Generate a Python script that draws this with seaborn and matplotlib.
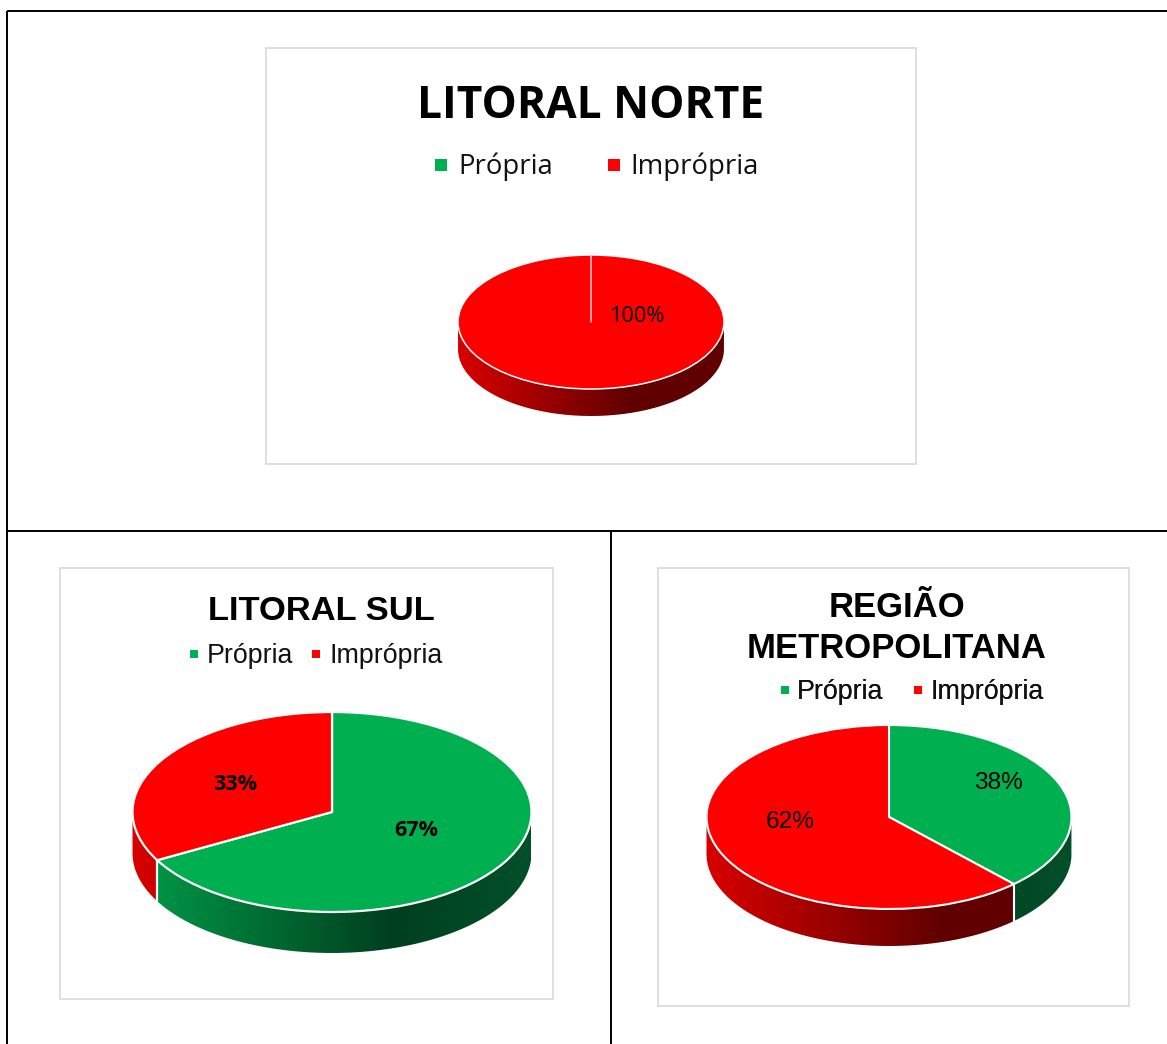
import numpy as np
import matplotlib
matplotlib.use('Agg')
import matplotlib.pyplot as plt
from matplotlib.colors import LinearSegmentedColormap
from matplotlib.lines import Line2D
from matplotlib.patches import PathPatch, Rectangle
from matplotlib.path import Path
import seaborn as sns

# Values
categories = ['Própria', 'Imprópria']
norte_values = [0, 100]
sul_values = [67, 33]
metro_values = [38, 62]

norte_title = 'LITORAL NORTE'
sul_title = 'LITORAL SUL'
metro_title = 'REGIÃO\nMETROPOLITANA'

sns.set_theme(style='white')

W, H = 1167, 1044
fig = plt.figure(figsize=(W / 100, H / 100), dpi=100, facecolor='white')

# Background layer in pixel coordinates, for the table lines, boxes, titles and legends
bg = fig.add_axes([0, 0, 1, 1])
bg.set_xlim(0, W)
bg.set_ylim(H, 0)
bg.axis('off')

for xs, ys in [((7, W), (11, 11)), ((7, 7), (11, H)), ((7, W), (531, 531)), ((611, 611), (531, H))]:
    bg.plot(xs, ys, color='black', lw=1.4, solid_capstyle='butt')

palette = sns.color_palette(['#00B050', '#FF0000'])
side_cmaps = [
    LinearSegmentedColormap.from_list('green_side', [(0, '#009C48'), (0.65, '#003F1F'), (1, '#02502A')]),
    LinearSegmentedColormap.from_list('red_side', [(0, '#D80000'), (0.65, '#600000'), (1, '#600000')]),
]


def draw_box(x0, y0, x1, y1):
    bg.add_patch(Rectangle((x0, y0), x1 - x0, y1 - y0, fc='white', ec='#D9D9D9', lw=1.2))


def draw_legend(cx, cy, font, size, msize, hlen, colspace, textpad):
    handles = [Line2D([], [], ls='none', marker='s', ms=msize, color=c, mew=0) for c in palette]
    leg = bg.legend(handles, categories, loc='center', bbox_to_anchor=(cx, cy),
                    bbox_transform=bg.transData, ncol=2, frameon=False,
                    columnspacing=colspace, handletextpad=textpad, handlelength=hlen,
                    borderpad=0, borderaxespad=0,
                    prop={'family': font, 'size': size})
    for t in leg.get_texts():
        t.set_color('#111111')
    # keep it when the next legend is made
    bg.add_artist(leg)


def draw_pie(values, cx, cy, rx, ry, depth, edge_lw, labels):
    pad = 1.03
    d = depth / ry
    top = cy - ry * pad
    bottom = cy + ry * (d + pad)
    ax = fig.add_axes([(cx - rx * pad) / W, 1 - bottom / H, 2 * rx * pad / W, (bottom - top) / H])
    wedges, _ = ax.pie(values, colors=palette, startangle=90, counterclock=False, radius=1,
                       wedgeprops={'edgecolor': 'white', 'linewidth': edge_lw})
    ax.set_aspect('auto')
    for w in wedges:
        w.set_zorder(5)

    # Side wall: lower rim of each wedge pushed down, filled with a left-to-right gradient
    for w, cmap in zip(wedges, side_cmaps):
        if w.theta2 - w.theta1 >= 360:
            # a full disc has no radial edge of its own
            ang = np.radians(w.theta2)
            ax.plot([0, np.cos(ang)], [0, np.sin(ang)], color='#F4D0D0', lw=1.1, zorder=6)
        a0, a1 = max(w.theta1, -180), min(w.theta2, 0)
        if a1 <= a0:
            continue
        t = np.radians(np.linspace(a0, a1, 200))
        x, y = np.cos(t), np.sin(t)
        verts = np.r_[np.c_[x, y], np.c_[x[::-1], y[::-1] - d], [[x[0], y[0]]]]
        patch = PathPatch(Path(verts), fc='none', ec='none', transform=ax.transData)
        ax.add_patch(patch)
        img = ax.imshow(np.linspace(0, 1, 256).reshape(1, -1), cmap=cmap, aspect='auto',
                        extent=(-1, 1, -1 - d, 1), zorder=2, vmin=0, vmax=1)
        img.set_clip_path(patch)
        if a0 > -180:
            ax.plot([x[0], x[0]], [y[0], y[0] - d], color='white', lw=edge_lw, zorder=3)

    ax.set_xlim(-pad, pad)
    ax.set_ylim(-d - pad, pad)

    for val, (px, py), font, size, weight in labels:
        ax.text((px - cx) / rx, (cy - py) / ry, f'{val}%', ha='center', va='center',
                family=font, fontsize=size, fontweight=weight, color='black', zorder=7)


# LITORAL NORTE
draw_box(266, 48, 916, 464)
bg.text(591, 106, norte_title, ha='center', va='center', family='Open Sans',
        fontweight='bold', fontsize=31.9, color='black')
draw_legend(597, 167, 'Open Sans', 19.8, 8.6, 0.45, 2.0, 0.38)
draw_pie(norte_values, 591, 322, 133, 67, 27, 1.1,
         [(norte_values[1], (637, 316), 'Open Sans', 15.7, 'normal')])

# LITORAL SUL
draw_box(60, 568, 553, 999)
bg.text(321, 611, sul_title, ha='center', va='center', family='Liberation Sans',
        fontweight='bold', fontsize=24.8, color='black')
draw_legend(315.7, 656, 'Liberation Sans', 19.3, 6, 0.35, 0.68, 0.32)
draw_pie(sul_values, 332, 812, 199.5, 100, 41, 1.6,
         [(sul_values[0], (416, 831), 'Open Sans', 15.6, 'bold'),
          (sul_values[1], (235, 784), 'Open Sans', 15.6, 'bold')])

# REGIÃO METROPOLITANA
draw_box(658, 568, 1129, 1006)
bg.text(897, 628, metro_title, ha='center', va='center', family='Liberation Sans',
        fontweight='bold', fontsize=24.9, color='black', linespacing=1.3)
draw_legend(911.7, 692, 'Liberation Sans', 19.3, 6, 0.35, 1.11, 0.28)
draw_pie(metro_values, 889, 817, 182.5, 92, 37, 1.5,
         [(metro_values[0], (998, 783), 'Liberation Sans', 17.6, 'normal'),
          (metro_values[1], (790, 822), 'Liberation Sans', 17.6, 'normal')])

fig.savefig('out.png', dpi=100)
